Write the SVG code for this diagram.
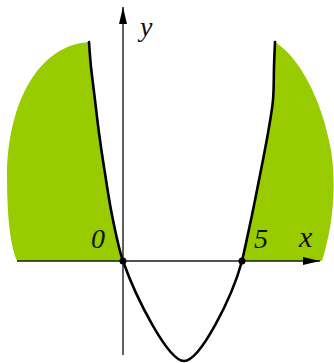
<svg xmlns="http://www.w3.org/2000/svg" width="334" height="363" viewBox="0 0 334 363">
<style>
.fill{fill:#99cc00;stroke:none}
.axis{stroke:#1a1a1a;stroke-width:1.4;fill:none}
.curve{stroke:#000;stroke-width:2.6;fill:none;stroke-linecap:round;stroke-linejoin:round}
.lbl{font-family:"Liberation Serif","Times New Roman",serif;font-style:italic;font-size:28px;fill:#111}
</style>
<defs>
<marker id="arr" markerWidth="18" markerHeight="10" refX="17" refY="5" orient="auto" markerUnits="userSpaceOnUse">
<path d="M0,1 L17,5 L0,9 Z" fill="#000"/>
</marker>
</defs>
<rect width="334" height="363" fill="#fff"/>
<g id="regions">
<path class="fill" d="M89,42 C40,45 8,100 7,175 C7,215 10,245 17,261 L123,261 C118.6,248.5 115.2,230.7 112,215 C108.8,199.3 106.2,180.7 104,167 C101.8,153.3 100.5,144.2 99,133 C97.5,121.8 96.3,111 95,100 C93.7,89 92,76.7 91,67 C90,57.3 89.3,46.2 89,42 Z"/>
<path class="fill" d="M275,42 C300,58 322,100 331,150 C338,195 330,235 322,261 L242,261 C245,248.5 248.8,230.2 252,215 C255.2,199.8 258.3,183.7 261,170 C263.7,156.3 266,144.7 268,133 C270,121.3 272,111 273,100 C274,89 273.7,76.7 274,67 C274.3,57.3 274.8,46.2 275,42 Z"/>
</g>
<g id="axes">
<line class="axis" x1="17" y1="261" x2="320" y2="261" marker-end="url(#arr)"/>
<line class="axis" x1="123" y1="355" x2="123" y2="7" marker-end="url(#arr)"/>
</g>
<g id="curve">
<path class="curve" d="M89,42 C89.3,46.2 90,57.3 91,67 C92,76.7 93.7,89 95,100 C96.3,111 97.5,121.8 99,133 C100.5,144.2 101.8,153.3 104,167 C106.2,180.7 108.8,199.3 112,215 C115.2,230.7 118.6,248.5 123,261 C136,298 168,361 184,361 C200,361 232,298 242,261 C245,248.5 248.8,230.2 252,215 C255.2,199.8 258.3,183.7 261,170 C263.7,156.3 266,144.7 268,133 C270,121.3 272,111 273,100 C274,89 273.7,76.7 274,67 C274.3,57.3 274.8,46.2 275,42"/>
</g>
<g id="points">
<circle cx="123" cy="261" r="3.5" fill="#000"/>
<circle cx="242" cy="261" r="3.5" fill="#000"/>
</g>
<g id="labels">
<text class="lbl" x="140" y="36">y</text>
<text class="lbl" x="91" y="248">0</text>
<text class="lbl" x="254" y="248">5</text>
<text class="lbl" x="299" y="247" style="font-size:30px">x</text>
</g>
</svg>
